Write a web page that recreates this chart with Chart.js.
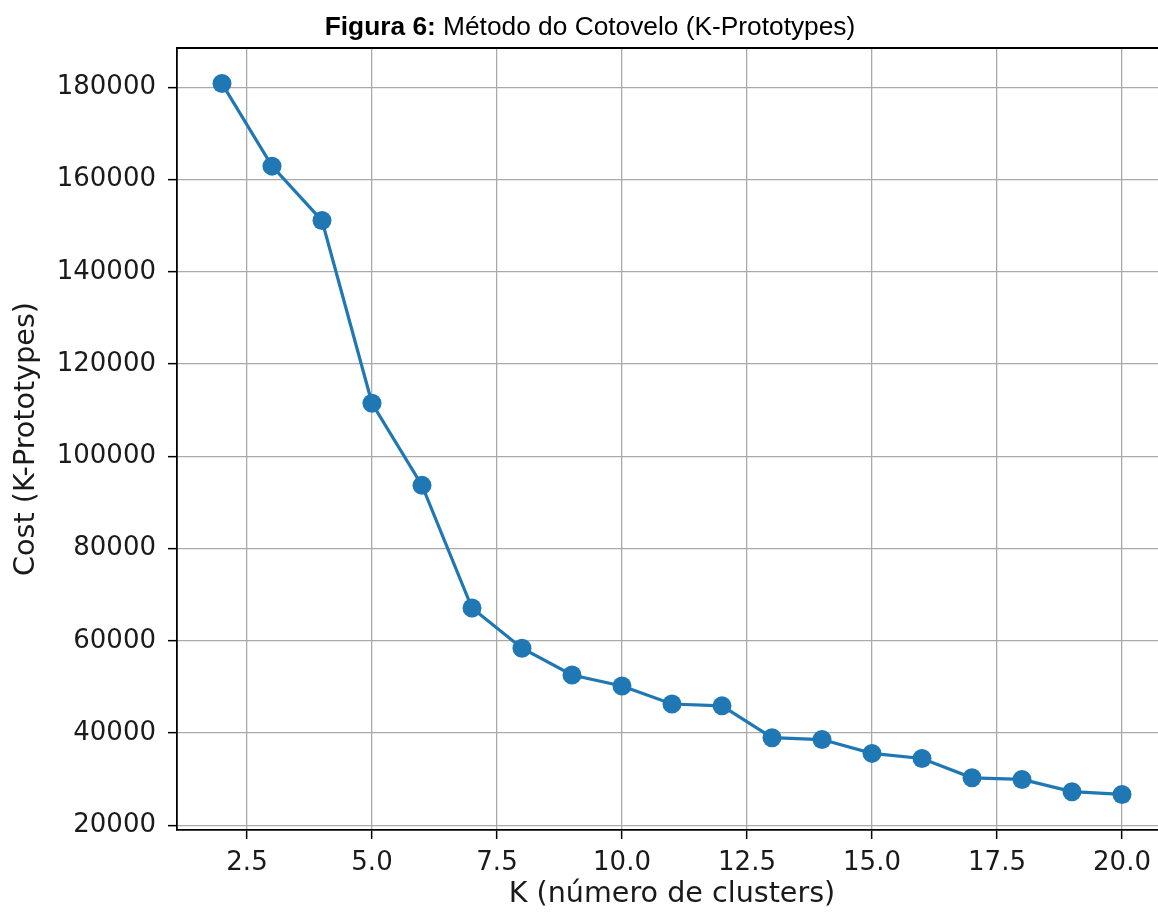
<!DOCTYPE html>
<html>
<head>
<meta charset="utf-8">
<script src="https://cdn.jsdelivr.net/npm/chart.js@4"></script>
<style>
  html, body { margin: 0; padding: 0; background: #fff; overflow: hidden; width: 1158px; height: 918px; }
  #wrap { position: relative; width: 1158px; height: 918px; overflow: hidden; }
  #myChart { position: absolute; left: 0; top: 0; }
  #titulo {
    position: absolute; left: 590px; top: 13px; transform: translateX(-50%);
    font-family: "Liberation Sans", Arial, sans-serif; font-size: 26.3px; line-height: 26px;
    white-space: nowrap; color: #000;
  }
</style>
</head>
<body>
<div id="wrap">
  <canvas id="myChart" width="1180" height="918"></canvas>
  <div id="titulo"><b>Figura 6:</b> Método do Cotovelo (K-Prototypes)</div>
</div>
<script>
// dados
const kValues = [2, 3, 4, 5, 6, 7, 8, 9, 10, 11, 12, 13, 14, 15, 16, 17, 18, 19, 20];
const costValues = [180800, 162900, 151100, 111500, 93700, 67100, 58400, 52600, 50200, 46300, 45900, 39000, 38600, 35600, 34500, 30300, 29950, 27300, 26700];
const xTicks = [2.5, 5.0, 7.5, 10.0, 12.5, 15.0, 17.5, 20.0];
const yTicks = [20000, 40000, 60000, 80000, 100000, 120000, 140000, 160000, 180000];

const points = kValues.map((k, i) => ({ x: k, y: costValues[i] }));

// linha de cima (spine)
const framePlugin = {
  id: "frame",
  afterDraw: (chart) => {
    const { ctx, chartArea } = chart;
    ctx.save();
    ctx.strokeStyle = "#000";
    ctx.lineWidth = 1.8;
    ctx.beginPath();
    ctx.moveTo(chartArea.left, chartArea.top);
    ctx.lineTo(chartArea.right, chartArea.top);
    ctx.stroke();
    ctx.restore();
  },
};

const tickFont = { family: "DejaVu Sans", size: 26 };
const titleFont = { family: "DejaVu Sans", size: 28.6 };

const ctx = document.getElementById("myChart").getContext("2d");
const chart = new Chart(ctx, {
  type: "line",
  data: {
    datasets: [
      {
        data: points,
        borderColor: "#1f77b4",
        backgroundColor: "#1f77b4",
        borderWidth: 3.2,
        pointRadius: 9.5,
        pointBorderWidth: 0,
        pointBackgroundColor: "#1f77b4",
        tension: 0,
      },
    ],
  },
  options: {
    responsive: false,
    animation: false,
    layout: { padding: { top: 48, right: 13, left: 0, bottom: 0 } },
    plugins: {
      legend: { display: false },
      tooltip: { enabled: false },
    },
    scales: {
      x: {
        type: "linear",
        min: 1.1,
        max: 20.9,
        afterBuildTicks: (scale) => {
          scale.ticks = xTicks.map((v) => ({ value: v }));
        },
        afterFit: (scale) => {
          scale.height = 88;
        },
        ticks: {
          font: tickFont,
          color: "#1a1a1a",
          padding: 9,
          maxRotation: 0,
          callback: (v) => Number(v).toFixed(1),
        },
        grid: {
          color: "#aaaaaa",
          lineWidth: 1.3,
          tickColor: "#000",
          tickLength: 9,
          tickWidth: 1.5,
        },
        border: { color: "#000", width: 1.8 },
        title: {
          display: true,
          text: "K (número de clusters)",
          font: titleFont,
          color: "#1a1a1a",
          padding: { top: 0, bottom: 6 },
        },
      },
      y: {
        type: "linear",
        min: 18990,
        max: 188510,
        afterBuildTicks: (scale) => {
          scale.ticks = yTicks.map((v) => ({ value: v }));
        },
        afterFit: (scale) => {
          scale.width = 177;
        },
        ticks: {
          font: tickFont,
          color: "#1a1a1a",
          padding: 12,
          callback: (v) => String(v),
        },
        grid: {
          color: "#aaaaaa",
          lineWidth: 1.3,
          tickColor: "#000",
          tickLength: 9,
          tickWidth: 1.5,
        },
        border: { color: "#000", width: 1.8 },
        title: {
          display: true,
          text: "Cost (K-Prototypes)",
          font: titleFont,
          color: "#1a1a1a",
          padding: { top: 9, bottom: 0 },
        },
      },
    },
  },
  plugins: [framePlugin],
});
</script>
</body>
</html>
